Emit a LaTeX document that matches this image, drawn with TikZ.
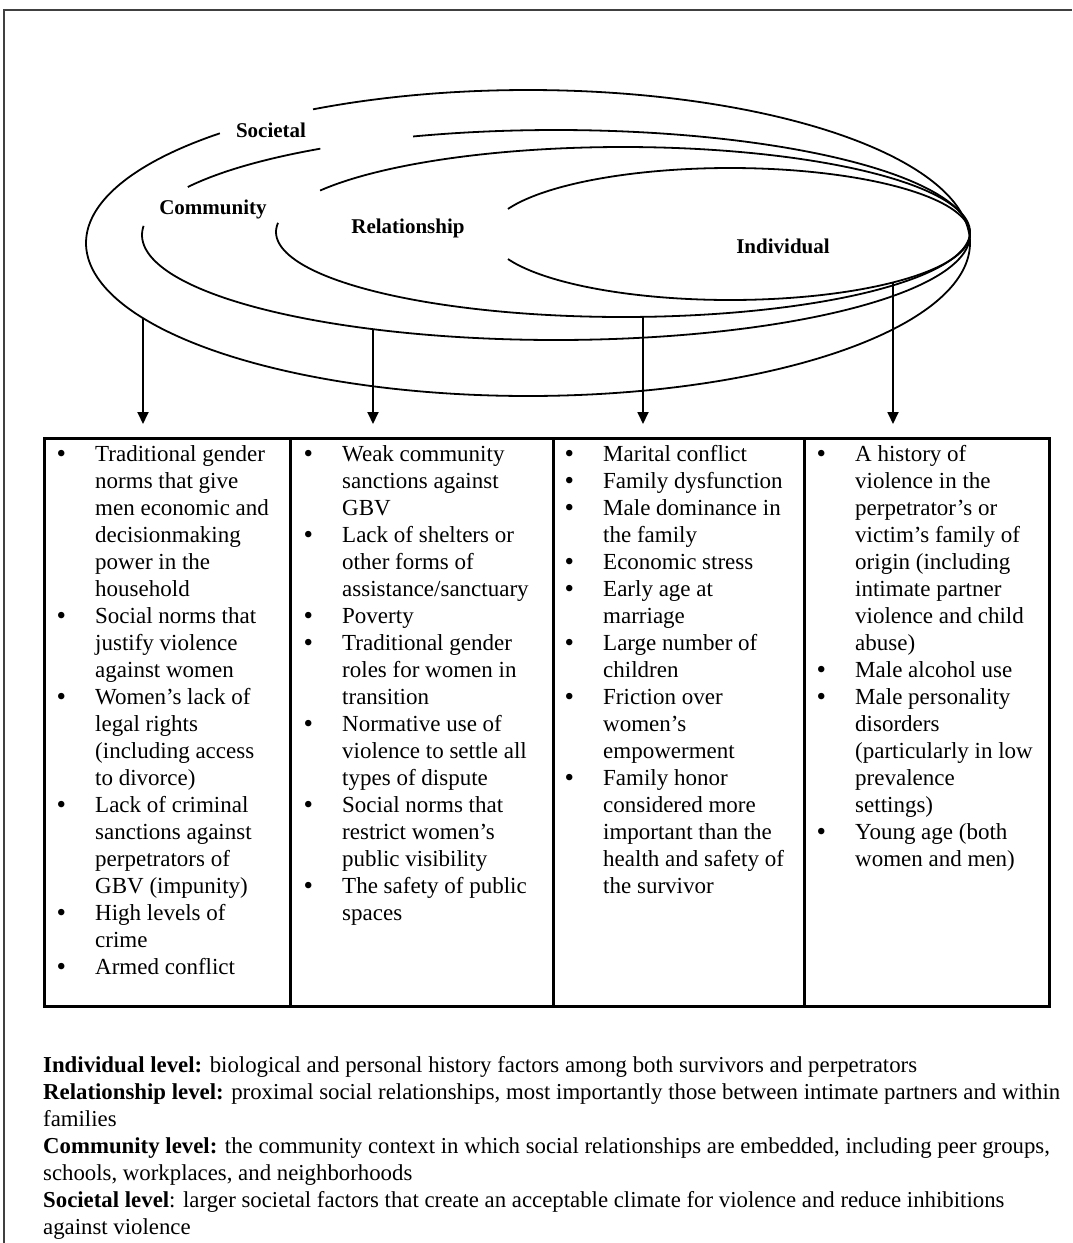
\documentclass[tikz,border=0pt]{standalone}
\usepackage{fontspec}
\setmainfont{Liberation Serif}
\usetikzlibrary{arrows.meta}
\newcommand\bu{\makebox[38.5pt][l]{\smash{\raisebox{-1.4pt}{\fontsize{27}{27}\selectfont\textbullet}}}}
\newcommand\ct{\hspace*{38.5pt}}
\begin{document}
\begin{tikzpicture}[x=1pt,y=-1pt,
  ell/.style={line width=1.8pt, black},
  arr/.style={line width=1.8pt, -{Triangle[length=12pt,width=11pt]}},
  col/.style={draw, line width=2.6pt, inner sep=0pt, anchor=north west, minimum height=568pt},
  lbl/.style={font=\fontsize{21}{25}\selectfont\bfseries, inner sep=0pt, anchor=base},
  items/.style={font=\fontsize{23}{27}\selectfont, inner sep=0pt, anchor=north west},
  leg/.style={font=\fontsize{22.8}{27}\selectfont, inner sep=0pt, anchor=base west},
  frame/.style={line width=2pt, black!75}
]
\useasboundingbox (0,0) rectangle (1072,1243);
% outer frame
\coordinate (f1) at (4,1243);
\coordinate (f2) at (4,10);
\coordinate (f3) at (1072,10);
\draw[frame] (f1) -- (f2) -- (f3);

% ellipses
\draw[ell] plot[domain=240.9:585.8, samples=200, smooth] ({528+442*cos(\x)},{243+153*sin(\x)});
\draw[ell] plot[domain=207.2:235.3, samples=30, smooth] ({556+414*cos(\x)},{235+105*sin(\x)});
\draw[ell] plot[domain=249.8:545, samples=200, smooth] ({556+414*cos(\x)},{235+105*sin(\x)});
\draw[ell] plot[domain=209.2:546.2, samples=200, smooth] ({623+347*cos(\x)},{232+85*sin(\x)});
\draw[ell] plot[domain=202.3:517.7, samples=200, smooth] ({730+240*cos(\x)},{234+66*sin(\x)});

% labels
\node[lbl] (soc) at (271,137) {Societal};
\node[lbl] (com) at (213,214) {Community};
\node[lbl] (rel) at (408,233) {Relationship};
\node[lbl] (ind) at (783,253) {Individual};

% table columns
\node[col, minimum width=246pt] (c1) at (43,437) {};
\node[col, minimum width=263pt] (c2) at (289,437) {};
\node[col, minimum width=251pt] (c3) at (552,437) {};
\node[col, minimum width=245pt] (c4) at (803,437) {};

% arrows
\coordinate (s1) at (143,318);
\coordinate (s2) at (373,329);
\coordinate (s3) at (643,317);
\coordinate (s4) at (893,282);
\coordinate (t1) at (143,424);
\coordinate (t2) at (373,424);
\coordinate (t3) at (643,424);
\coordinate (t4) at (893,424);
\draw[arr] (s1) -- (t1);
\draw[arr] (s2) -- (t2);
\draw[arr] (s3) -- (t3);
\draw[arr] (s4) -- (t4);

% column texts
\node[items] (i1) at (56.5,442) {\begin{tabular}{@{}l@{}}
\bu Traditional gender\\
\ct norms that give\\
\ct men economic and\\
\ct decisionmaking\\
\ct power in the\\
\ct household\\
\bu Social norms that\\
\ct justify violence\\
\ct against women\\
\bu Women’s lack of\\
\ct legal rights\\
\ct (including access\\
\ct to divorce)\\
\bu Lack of criminal\\
\ct sanctions against\\
\ct perpetrators of\\
\ct GBV (impunity)\\
\bu High levels of\\
\ct crime\\
\bu Armed conflict
\end{tabular}};
\node[items] (i2) at (303.5,442) {\begin{tabular}{@{}l@{}}
\bu Weak community\\
\ct sanctions against\\
\ct GBV\\
\bu Lack of shelters or\\
\ct other forms of\\
\ct assistance/sanctuary\\
\bu Poverty\\
\bu Traditional gender\\
\ct roles for women in\\
\ct transition\\
\bu Normative use of\\
\ct violence to settle all\\
\ct types of dispute\\
\bu Social norms that\\
\ct restrict women’s\\
\ct public visibility\\
\bu The safety of public\\
\ct spaces
\end{tabular}};
\node[items] (i3) at (564.5,442) {\begin{tabular}{@{}l@{}}
\bu Marital conflict\\
\bu Family dysfunction\\
\bu Male dominance in\\
\ct the family\\
\bu Economic stress\\
\bu Early age at\\
\ct marriage\\
\bu Large number of\\
\ct children\\
\bu Friction over\\
\ct women’s\\
\ct empowerment\\
\bu Family honor\\
\ct considered more\\
\ct important than the\\
\ct health and safety of\\
\ct the survivor
\end{tabular}};
\node[items] (i4) at (816.5,442) {\begin{tabular}{@{}l@{}}
\bu A history of\\
\ct violence in the\\
\ct perpetrator’s or\\
\ct victim’s family of\\
\ct origin (including\\
\ct intimate partner\\
\ct violence and child\\
\ct abuse)\\
\bu Male alcohol use\\
\bu Male personality\\
\ct disorders\\
\ct (particularly in low\\
\ct prevalence\\
\ct settings)\\
\bu Young age (both\\
\ct women and men)
\end{tabular}};

% legend
\node[leg] (l1) at (43,1072) {\textbf{Individual level:} biological and personal history factors among both survivors and perpetrators};
\node[leg] (l2) at (43,1099) {\textbf{Relationship level:} proximal social relationships, most importantly those between intimate partners and within};
\node[leg] (l3) at (43,1126) {families};
\node[leg] (l4) at (43,1153) {\textbf{Community level:} the community context in which social relationships are embedded, including peer groups,};
\node[leg] (l5) at (43,1180) {schools, workplaces, and neighborhoods};
\node[leg] (l6) at (43,1207) {\textbf{Societal level}: larger societal factors that create an acceptable climate for violence and reduce inhibitions};
\node[leg] (l7) at (43,1234) {against violence};
\end{tikzpicture}
\end{document}
